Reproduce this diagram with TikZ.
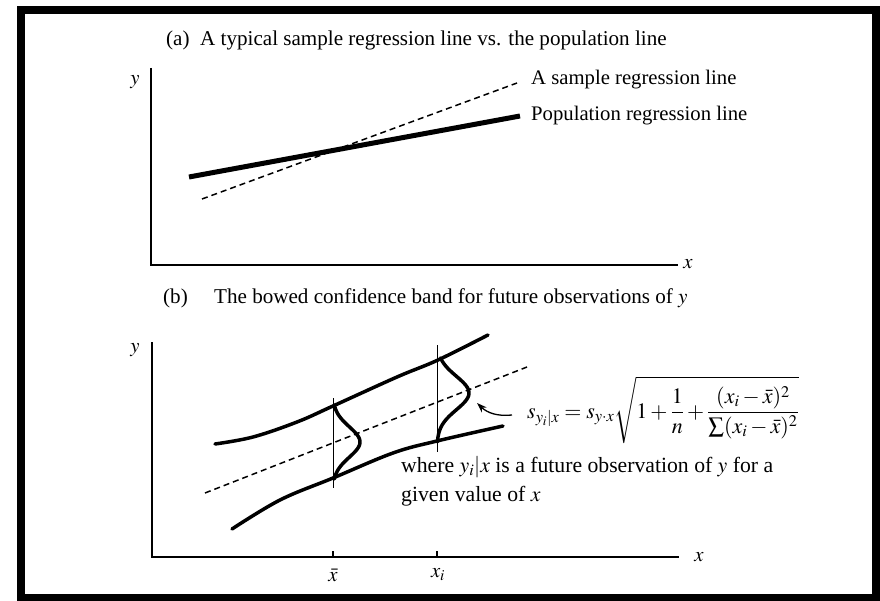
\documentclass[tikz,border=0pt]{standalone}
\usepackage{mathptmx}
\usepackage[no-math]{fontspec}
\setmainfont{Liberation Serif}
\usetikzlibrary{arrows.meta}
\begin{document}
\begin{tikzpicture}[x=1pt,y=-1pt,
  txt/.style={inner sep=0pt, font=\fontsize{20.7}{29}\selectfont},
  titletxt/.style={inner sep=0pt, font=\fontsize{21.1}{29}\selectfont},
  bigtxt/.style={inner sep=0pt, font=\fontsize{21.7}{29}\selectfont},
  axisline/.style={line width=1.3pt},
  popline/.style={line width=5pt},
  dashline/.style={line width=1.5pt, dash pattern=on 6pt off 4pt},
  bandline/.style={line width=3.5pt, line cap=round},
  bellline/.style={line width=3.5pt, line cap=round, line join=round},
  thinline/.style={line width=0.9pt},
  arrowline/.style={line width=1.3pt, -{Stealth[length=10pt,width=7pt]}}]
\useasboundingbox (0,0) rectangle (880,601);
% frame
\draw[line width=8pt] (21,10) rectangle (876,598);

% ---------- panel (a)
\node[titletxt, anchor=west] (titleA) at (166,40) {(a)\enspace A typical sample regression line vs. the population line};
\coordinate (aTop) at (151,68);
\coordinate (aO) at (151,265);
\coordinate (aRight) at (678,265);
\draw[axisline] (aTop) -- (aO) -- (aRight);
\node[txt] (ya) at (135,82) {$y$};
\node[txt] (xa) at (688,264) {$x$};
\coordinate (popS) at (189,177);
\coordinate (popE) at (520,116);
\coordinate (samS) at (202,199);
\coordinate (samE) at (517,83);
\draw[popline] (popS) -- (popE);
\draw[dashline] (samS) -- (samE);
\node[txt, anchor=west] (samp) at (531,80) {A sample regression line};
\node[txt, anchor=west] (pop) at (531,116) {Population regression line};

% ---------- panel (b)
\node[titletxt, anchor=west] (titleB) at (163,298) {(b)~\quad The bowed confidence band for future observations of $y$};
\coordinate (bTop) at (152,342);
\coordinate (bO) at (152,557);
\coordinate (bRight) at (679,557);
\draw[axisline] (bTop) -- (bO) -- (bRight);
\node[txt] (yb) at (135,350) {$y$};
\node[txt] (xb) at (699,557) {$x$};
% ticks
\coordinate (tbar) at (333,557);
\coordinate (ti) at (437,557);
\draw[axisline] (tbar) -- ++(0,-6);
\draw[axisline] (ti) -- ++(0,-6);
\node[txt] (lbar) at (333,575) {$\bar{x}$};
\node[txt] (li) at (438,575) {$x_i$};
% band
\draw[bandline] plot[smooth, tension=0.6] coordinates {(215,444) (253,437) (297,422) (333,406) (397,377) (438,360) (488,335)};
\draw[bandline] plot[smooth, tension=0.6] coordinates {(232,529) (280,500) (333,478) (393,453) (437,441) (503,426)};
% dashed fitted line
\coordinate (dS) at (205,493);
\coordinate (dE) at (527,367);
\draw[dashline] (dS) -- (dE);
% verticals
\draw[thinline] (333,398) -- (333,488);
\draw[thinline] (437,345) -- (437,452);
% bells
\draw[bellline] plot[domain=405:479, samples=50, smooth] ({333+27*exp(-(\x-442)*(\x-442)/460)}, \x);
\draw[bellline] plot[domain=358:442, samples=50, smooth] ({437+32*exp(-(\x-393)*(\x-393)/560)}, \x);
% formula
\node[inner sep=0pt, font=\fontsize{22}{29}\selectfont, anchor=west] (form) at (527,410) {$\displaystyle s_{y_i|x}=s_{y\cdot x}\sqrt{1+\frac{1}{n}+\frac{(x_i-\bar{x})^2}{\sum(x_i-\bar{x})^2}}$};
\coordinate (atail) at (512,415);
\coordinate (ahead) at (477,403);
\draw[arrowline] (atail) to[bend left=25] (ahead);
\node[bigtxt, anchor=west, align=left] (where) at (401,481) {where $y_i|x$ is a future observation of $y$ for a\\given value of $x$};
\end{tikzpicture}
\end{document}
